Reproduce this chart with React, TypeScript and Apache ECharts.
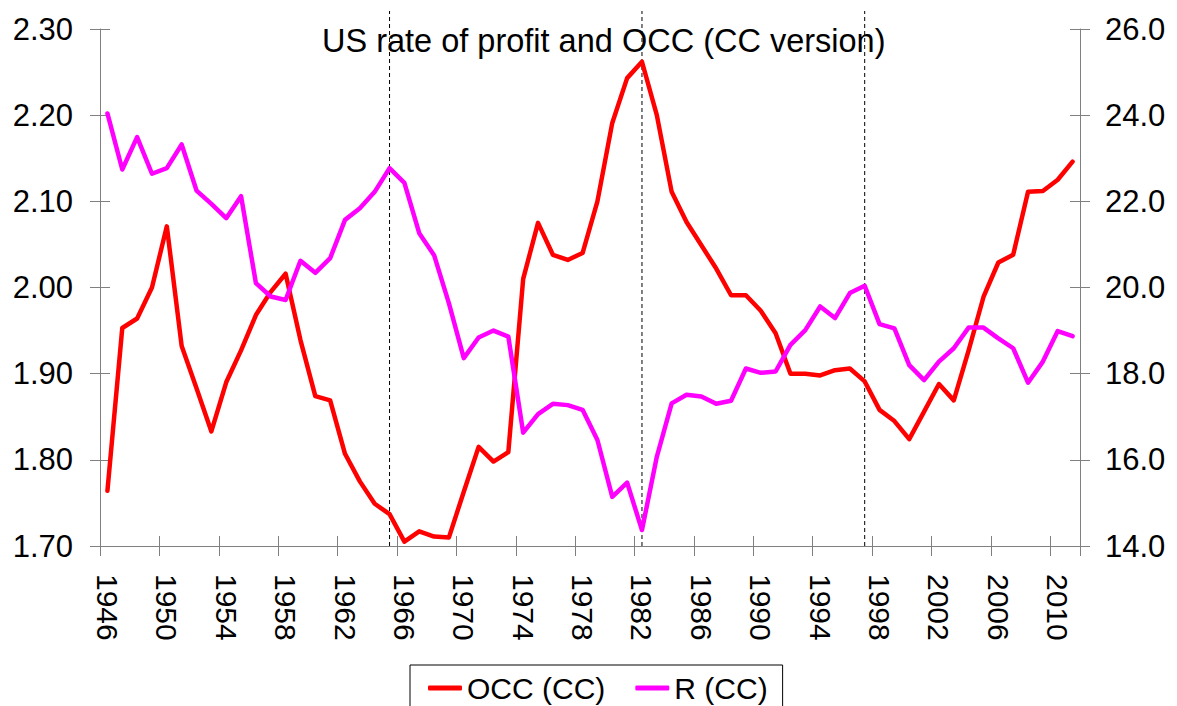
import React, { useEffect, useRef } from "react";
import * as echarts from "echarts";

const years = [
  "1946","1947","1948","1949","1950","1951","1952","1953","1954","1955",
  "1956","1957","1958","1959","1960","1961","1962","1963","1964","1965",
  "1966","1967","1968","1969","1970","1971","1972","1973","1974","1975",
  "1976","1977","1978","1979","1980","1981","1982","1983","1984","1985",
  "1986","1987","1988","1989","1990","1991","1992","1993","1994","1995",
  "1996","1997","1998","1999","2000","2001","2002","2003","2004","2005",
  "2006","2007","2008","2009","2010","2011",
];

const occ = [
  1.764, 1.953, 1.964, 2.0, 2.071, 1.932, 1.883, 1.833, 1.89, 1.927,
  1.968, 1.995, 2.016, 1.939, 1.874, 1.869, 1.807, 1.775, 1.749, 1.737,
  1.705, 1.717, 1.711, 1.71, 1.763, 1.815, 1.798, 1.809, 2.01, 2.075,
  2.038, 2.032, 2.04, 2.1, 2.191, 2.243, 2.262, 2.2, 2.111, 2.076,
  2.049, 2.022, 1.991, 1.991, 1.973, 1.947, 1.9, 1.9, 1.898, 1.904,
  1.906, 1.891, 1.858, 1.845, 1.824, 1.856, 1.888, 1.869, 1.927, 1.989,
  2.029, 2.038, 2.111, 2.112, 2.125, 2.146,
];

const rate = [
  24.04, 22.74, 23.49, 22.64, 22.77, 23.32, 22.25, 21.94, 21.61, 22.12,
  20.1, 19.79, 19.71, 20.62, 20.34, 20.68, 21.57, 21.84, 22.22, 22.77,
  22.43, 21.26, 20.75, 19.63, 18.36, 18.84, 19.0, 18.86, 16.63, 17.06,
  17.3, 17.27, 17.16, 16.46, 15.14, 15.47, 14.37, 16.07, 17.31, 17.51,
  17.47, 17.3, 17.37, 18.12, 18.02, 18.05, 18.67, 19.01, 19.56, 19.29,
  19.87, 20.04, 19.15, 19.05, 18.2, 17.85, 18.28, 18.59, 19.07, 19.07,
  18.82, 18.59, 17.79, 18.28, 18.99, 18.87,
];

const markerYears = ["1965", "1982", "1997"];

const FONT = "'Liberation Sans', Arial, sans-serif";
const AXIS_GRAY = "#808080";

export default function App() {
  const ref = useRef<HTMLDivElement>(null);

  useEffect(() => {
    if (!ref.current) return;
    const chart = echarts.init(ref.current, undefined, { renderer: "svg" });

    const leftAxisBase = {
      type: "value",
      min: 1.7,
      max: 2.3,
      interval: 0.1,
      splitLine: { show: false },
    };
    const rightAxisBase = {
      type: "value",
      min: 14,
      max: 26,
      interval: 2,
      splitLine: { show: false },
    };

    chart.setOption({
      animation: false,
      backgroundColor: "#ffffff",
      textStyle: { fontFamily: FONT },
      title: {
        text: "US rate of profit and OCC (CC version)",
        left: 322,
        top: 24,
        padding: 0,
        textStyle: {
          fontFamily: FONT,
          fontSize: 32.5,
          fontWeight: "normal",
          color: "#000",
        },
      },
      legend: {
        data: ["OCC (CC)", "R (CC)"],
        left: 410,
        top: 665,
        orient: "horizontal",
        padding: [8, 15, 8, 18],
        itemGap: 30,
        itemWidth: 34,
        itemHeight: 5,
        icon: "roundRect",
        borderColor: "#000",
        borderWidth: 1,
        borderRadius: 0,
        textStyle: { fontFamily: FONT, fontSize: 30, color: "#000" },
      },
      grid: { left: 100, right: 97, top: 29, bottom: 160, containLabel: false },
      xAxis: [
        {
          type: "category",
          data: years,
          boundaryGap: true,
          position: "bottom",
          axisLine: { show: true, lineStyle: { color: AXIS_GRAY, width: 1 } },
          axisTick: {
            show: true,
            interval: 3,
            length: 10,
            inside: false,
            lineStyle: { color: AXIS_GRAY },
          },
          axisLabel: {
            interval: 3,
            rotate: -90,
            margin: 28,
            fontSize: 30,
            fontFamily: FONT,
            color: "#000",
          },
          splitLine: { show: false },
        },
        {
          type: "category",
          data: years,
          boundaryGap: true,
          position: "bottom",
          axisLine: { show: false },
          axisTick: {
            show: true,
            interval: 3,
            length: 10,
            inside: true,
            lineStyle: { color: AXIS_GRAY },
          },
          axisLabel: { show: false },
          splitLine: { show: false },
        },
      ],
      yAxis: [
        {
          ...leftAxisBase,
          position: "left",
          axisLine: { show: true, lineStyle: { color: AXIS_GRAY } },
          axisTick: { show: true, length: 10, inside: false, lineStyle: { color: AXIS_GRAY } },
          axisLabel: {
            margin: 27,
            fontSize: 31,
            fontFamily: FONT,
            color: "#000",
            formatter: (v: number) => v.toFixed(2),
          },
        },
        {
          ...rightAxisBase,
          position: "right",
          axisLine: { show: true, lineStyle: { color: AXIS_GRAY } },
          axisTick: { show: true, length: 10, inside: false, lineStyle: { color: AXIS_GRAY } },
          axisLabel: {
            margin: 25,
            fontSize: 31,
            fontFamily: FONT,
            color: "#000",
            formatter: (v: number) => v.toFixed(1),
          },
        },
        {
          ...leftAxisBase,
          position: "left",
          axisLine: { show: false },
          axisTick: { show: true, length: 10, inside: true, lineStyle: { color: AXIS_GRAY } },
          axisLabel: { show: false },
        },
        {
          ...rightAxisBase,
          position: "right",
          axisLine: { show: false },
          axisTick: { show: true, length: 10, inside: true, lineStyle: { color: AXIS_GRAY } },
          axisLabel: { show: false },
        },
      ],
      series: [
        {
          name: "markers",
          type: "custom",
          xAxisIndex: 0,
          yAxisIndex: 0,
          z: 1,
          silent: true,
          clip: false,
          data: markerYears.map((y) => [y, 1.7]),
          renderItem: (params: any, api: any) => {
            const x = api.value(0);
            const bottom = api.coord([x, 1.7]);
            const top = api.coord([x, 2.3]);
            return {
              type: "line",
              shape: { x1: bottom[0], y1: bottom[1], x2: top[0], y2: top[1] - 18 },
              style: { stroke: "#000", lineWidth: 1, lineDash: [4, 3] },
            };
          },
        },
        {
          name: "OCC (CC)",
          type: "line",
          xAxisIndex: 0,
          yAxisIndex: 0,
          data: occ,
          showSymbol: false,
          symbol: "none",
          z: 3,
          color: "#ff0000",
          lineStyle: { color: "#ff0000", width: 4.5, cap: "round", join: "round" },
        },
        {
          name: "R (CC)",
          type: "line",
          xAxisIndex: 0,
          yAxisIndex: 1,
          data: rate,
          showSymbol: false,
          symbol: "none",
          z: 3,
          color: "#ff00ff",
          lineStyle: { color: "#ff00ff", width: 4.5, cap: "round", join: "round" },
        },
      ],
    });

    return () => {
      chart.dispose();
    };
  }, []);

  return (
    <div
      ref={ref}
      style={{ position: "fixed", left: 0, top: 0, width: 1177, height: 706, background: "#fff" }}
    />
  );
}
